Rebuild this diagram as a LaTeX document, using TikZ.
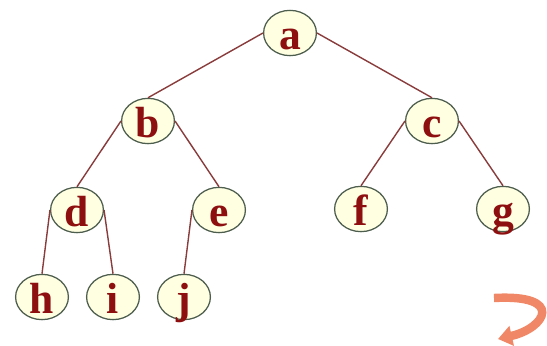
\documentclass[tikz,border=0pt]{standalone}
\usepackage{fontspec}
\setmainfont{Liberation Serif}
\usepackage{xcolor}
\usepackage{tikz}
\usetikzlibrary{positioning}
\usetikzlibrary{arrows.meta}
\usetikzlibrary{shapes.geometric}

\definecolor{nodefill}{HTML}{FFFFE2}
\definecolor{nodeline}{HTML}{4E5E4E}
\definecolor{lettercol}{HTML}{8E0F0F}
\definecolor{edgecol}{HTML}{8A3C3C}
\definecolor{backcol}{HTML}{F08868}

\tikzset{
	vtx/.style={ellipse, draw=nodeline, fill=nodefill, line width=0.9pt,
			minimum width=1.32cm, minimum height=1.07cm, inner sep=0pt,
			text height=0.8cm, text depth=0pt, text=lettercol,
			font=\fontsize{31}{31}\selectfont\bfseries},
	edge/.style={draw=edgecol, line width=1pt}
}

\begin{document}
\begin{tikzpicture}[x=0.025cm, y=-0.025cm]
		\useasboundingbox (0,0) rectangle (547,345);

		% Vertices of the tree
		\foreach \n/\x/\y in {a/290/33, b/148/121, c/432/121, d/77/210, e/219/210,
				f/361/209, g/503/209, h/42/297, i/113/297, j/184/297} {
				\node[vtx] (\n) at (\x,\y) {\n};
			}

		% Parent to child edges
		\foreach \p/\s/\c in {a/west/b, a/east/c, b/west/d, b/east/e, c/west/f,
				c/east/g, d/west/h, d/east/i, e/west/j} {
				\draw[edge] (\p.\s) -- (\c.north);
			}

		% Return arrow
		\coordinate (r0) at (494,298);
		\coordinate (r1) at (498,339);
		\draw[backcol, line width=6pt, -{Triangle[length=10pt, width=14pt]}]
			(r0) .. controls (565,294) and (546,328) .. (r1);
	\end{tikzpicture}
\end{document}
